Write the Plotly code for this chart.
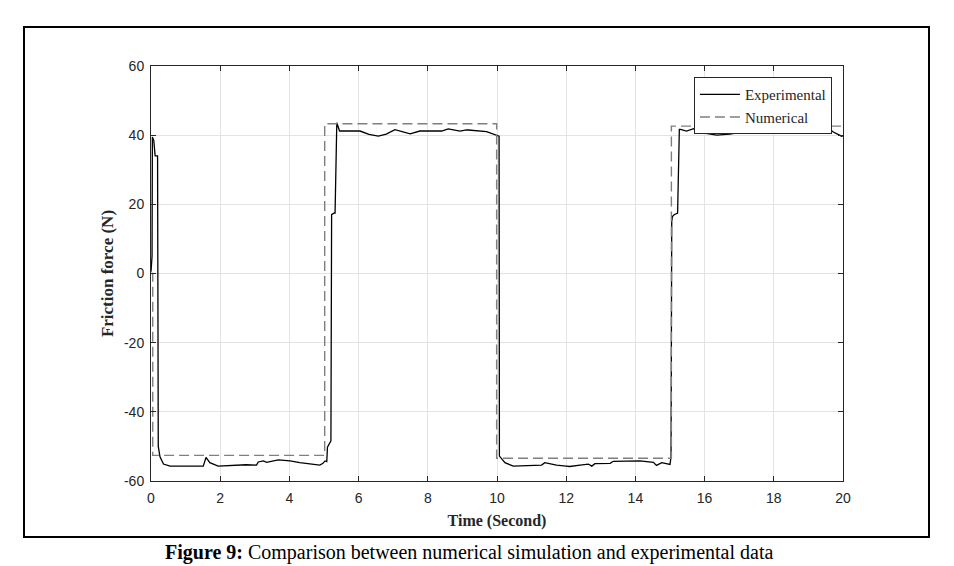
import plotly.graph_objects as go

# Experimental friction force (N) vs time (s)
exp_t = [0.0, 0.03, 0.04, 0.08, 0.12, 0.19, 0.21, 0.26, 0.36, 0.55, 1.0, 1.51, 1.59, 1.7, 1.94,
         2.38, 2.75, 3.05, 3.1, 3.25, 3.34, 3.68, 4.02, 4.3, 4.69, 4.88, 4.97, 5.03, 5.08, 5.1,
         5.2, 5.22, 5.3, 5.32, 5.37, 5.45, 6.04, 6.3, 6.57, 6.8, 7.05, 7.49, 7.77, 8.4, 8.59,
         8.93, 9.12, 9.17, 9.7, 10.03, 10.06, 10.07, 10.18, 10.23, 10.47, 11.05, 11.29, 11.38,
         11.43, 11.72, 12.0, 12.1, 12.4, 12.64, 12.74, 12.83, 13.27, 13.36, 14.13, 14.52,
         14.61, 14.76, 15.0, 15.03, 15.05, 15.07, 15.12, 15.22, 15.27, 15.3, 15.48, 15.68,
         15.82, 16.35, 16.73, 17.12, 17.21, 17.31, 17.55, 17.7, 17.99, 18.27, 18.37, 18.52,
         18.61, 18.76, 19.43, 19.53, 19.72, 19.96, 20.0]
exp_f = [0.5, 5.0, 39.5, 38.5, 34.0, 34.0, -50.0, -53.0, -55.1, -55.7, -55.7, -55.7, -53.2, -54.7, -55.7,
         -55.4, -55.3, -55.4, -54.5, -54.2, -54.6, -53.9, -54.2, -54.7, -55.2, -55.4, -54.9, -54.2, -54.4, -50.2,
         -48.4, 17.0, 17.5, 17.5, 43.6, 41.2, 41.2, 40.2, 39.7, 40.3, 41.6, 40.4, 41.2, 41.2, 41.8,
         41.2, 41.5, 41.5, 41.0, 39.8, 39.7, -52.8, -54.2, -54.7, -55.7, -55.4, -55.4, -54.7,
         -54.8, -55.4, -55.7, -55.8, -55.4, -55.1, -55.7, -55.0, -54.9, -54.3, -54.2, -54.6,
         -55.5, -54.7, -55.2, -53.0, 15.0, 16.5, 17.0, 17.5, 41.7, 41.7, 41.2, 41.9,
         40.9, 40.0, 40.3, 40.9, 41.2, 40.8, 41.6, 41.2, 42.2, 42.1, 42.6, 41.9,
         42.4, 41.9, 41.9, 42.3, 40.9, 39.7, 39.8]

# Numerical friction force (N) vs time (s)
num_t = [0.0, 0.05, 0.05, 5.02, 5.02, 9.99, 9.99, 15.04, 15.04, 20.0]
num_f = [0.0, 0.0, -52.6, -52.6, 43.3, 43.3, -53.4, -53.4, 42.6, 42.6]

x_ticks = list(range(0, 21, 2))
y_ticks = list(range(-60, 61, 20))

fig = go.Figure()
fig.add_trace(go.Scatter(x=exp_t, y=exp_f, mode="lines", name="Experimental",
                         line=dict(color="black", width=1.3)))
fig.add_trace(go.Scatter(x=num_t, y=num_f, mode="lines", name="Numerical",
                         line=dict(color="#7f7f7f", width=1.4, dash="10px,5px")))

axis_common = dict(showline=True, linecolor="#262626", linewidth=1, mirror="ticks",
                   ticks="inside", ticklen=5, tickcolor="#262626",
                   showgrid=True, gridcolor="#e3e3e3", gridwidth=1, zeroline=False,
                   tickfont=dict(family="Liberation Sans, Arial", size=14, color="#262626"))

fig.update_xaxes(range=[0, 20], tickvals=x_ticks, ticktext=[str(v) for v in x_ticks],
                 ticklabelstandoff=4,
                 title=dict(text="<b>Time (Second)</b>", standoff=10,
                            font=dict(family="Liberation Serif, Times New Roman", size=16, color="#262626")),
                 **axis_common)
fig.update_yaxes(range=[-60, 60], tickvals=y_ticks, ticktext=[str(v) for v in y_ticks],
                 ticklabelstandoff=3,
                 title=dict(text="<b>Friction force (N)</b>", standoff=6,
                            font=dict(family="Liberation Serif, Times New Roman", size=17, color="#262626")),
                 **axis_common)

fig.update_layout(
    width=954, height=566,
    margin=dict(l=151, r=111, t=66, b=85, autoexpand=False),
    paper_bgcolor="white", plot_bgcolor="white",
    showlegend=True,
    legend=dict(x=0.984, y=0.973, xanchor="right", yanchor="top",
                bgcolor="white", bordercolor="#262626", borderwidth=1,
                font=dict(family="Liberation Serif, Times New Roman", size=15, color="#262626"),
                tracegroupgap=0, itemwidth=40),
)

# outer figure frame
fig.add_shape(type="rect", xref="paper", yref="paper",
              x0=(24 - 151) / 692, x1=(929 - 151) / 692,
              y0=(481 - 537) / 415, y1=(481 - 27) / 415,
              line=dict(color="black", width=2), fillcolor="rgba(0,0,0,0)", layer="below")

# caption below the frame
fig.add_annotation(xref="paper", yref="paper", x=(469 - 151) / 692, y=(481 - 566) / 415,
                   xanchor="center", yanchor="bottom", showarrow=False,
                   text="<b>Figure 9:</b> Comparison between numerical simulation and experimental data",
                   font=dict(family="Liberation Serif, Times New Roman", size=20, color="black"))

fig.write_html("out.html")
